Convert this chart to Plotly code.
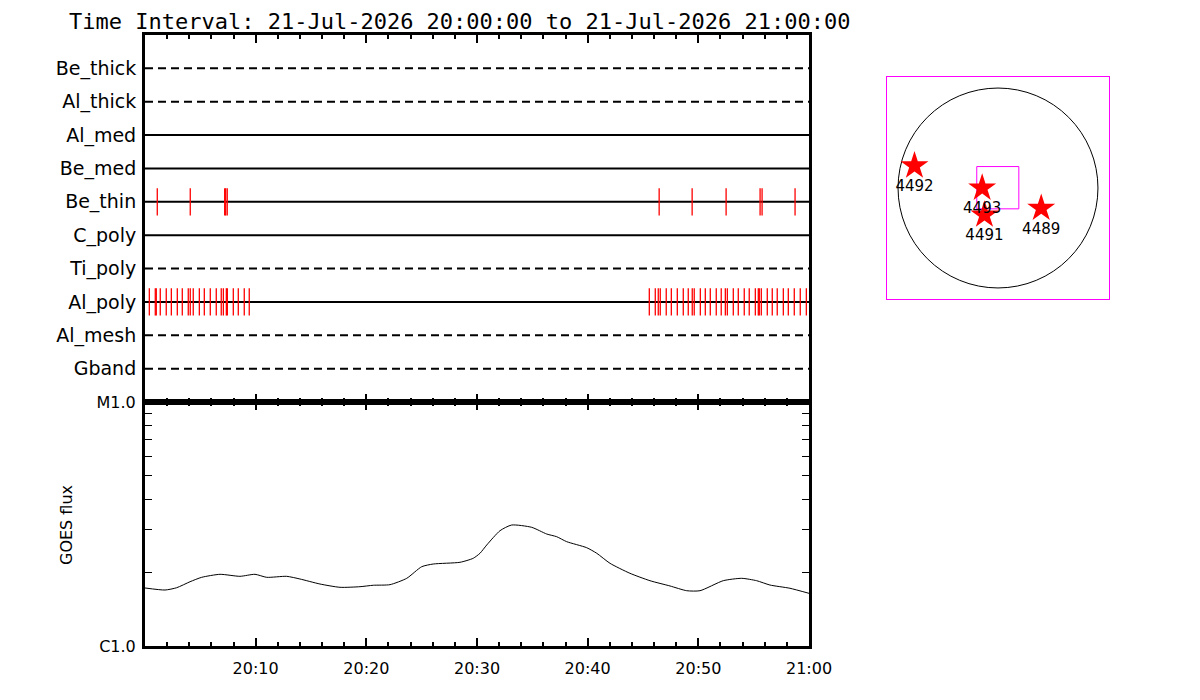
import numpy as np
import pandas as pd
import plotly.graph_objects as go

# ---------------- data ----------------
title_text = "Time Interval: 21-Jul-2026 20:00:00 to 21-Jul-2026 21:00:00"
start_time = "2026-07-21 20:00:00"

channels = ["Gband", "Al_mesh", "Al_poly", "Ti_poly", "C_poly",
            "Be_thin", "Be_med", "Al_med", "Al_thick", "Be_thick"]
channel_dashed = [True, True, False, True, False,
                  False, False, False, True, True]

# event times (minutes after start)
be_thin_events = [1.11, 4.09, 7.20, 7.29, 7.43,
                  46.46, 49.44, 52.51, 55.58, 55.76, 58.74]
al_poly_events = [0.39, 0.93, 1.02, 1.38, 1.92, 2.38, 2.92, 3.37, 3.91, 4.09,
                  4.36, 4.91, 5.36, 5.90, 6.44, 6.89, 7.08, 7.35, 7.44, 7.98,
                  8.43, 8.97, 9.42,
                  45.57, 46.11, 46.38, 46.56, 47.10, 47.56, 48.10, 48.64, 49.09,
                  49.45, 49.63, 50.18, 50.63, 51.08, 51.62, 52.07, 52.44, 52.62,
                  53.16, 53.61, 54.15, 54.60, 55.15, 55.42, 55.51, 55.69, 56.23,
                  56.68, 57.13, 57.68, 58.13, 58.67, 59.21, 59.76]

# GOES flux curve
goes_minutes = [0.0, 1.81, 2.86, 4.07, 5.12, 6.78, 8.58, 9.94, 11.0, 12.80,
                14.0, 15.81, 17.62, 19.43, 20.63, 22.14, 23.65, 25.0, 26.05,
                28.46, 29.66, 30.27, 30.88, 32.08, 33.13, 34.94, 36.30, 37.20,
                38.10, 39.91, 40.82, 42.02, 43.82, 45.63, 47.44, 48.95, 50.15,
                52.25, 53.92, 55.27, 56.47, 58.28, 60.0]
goes_flux = [1.729e-6, 1.696e-6, 1.733e-6, 1.834e-6, 1.912e-6, 1.967e-6,
             1.930e-6, 1.967e-6, 1.912e-6, 1.930e-6, 1.882e-6, 1.795e-6,
             1.740e-6, 1.750e-6, 1.774e-6, 1.784e-6, 1.894e-6, 2.113e-6,
             2.168e-6, 2.203e-6, 2.288e-6, 2.399e-6, 2.594e-6, 2.969e-6,
             3.132e-6, 3.065e-6, 2.877e-6, 2.805e-6, 2.677e-6, 2.529e-6,
             2.399e-6, 2.182e-6, 1.986e-6, 1.852e-6, 1.762e-6, 1.685e-6,
             1.685e-6, 1.852e-6, 1.894e-6, 1.852e-6, 1.778e-6, 1.724e-6,
             1.644e-6]

goes_tickvals = [1e-6, 1e-5]
goes_ticktext = ["C1.0", "M1.0"]
goes_minor = [2e-6, 3e-6, 4e-6, 5e-6, 6e-6, 7e-6, 8e-6, 9e-6]

time_tick_minutes = [10, 20, 30, 40, 50, 60]
time_tick_labels = ["20:10", "20:20", "20:30", "20:40", "20:50", "21:00"]

# active regions on the solar disk (arcsec)
ar_numbers = ["4492", "4493", "4491", "4489"]
ar_x = [-802, -152, -130, 415]
ar_y = [213, 0, -259, -194]
solar_radius = 960
fov_x = [-204, 200]
fov_y = [-200, 206]

# ---------------- build ----------------
base = pd.Timestamp(start_time)
def tm(m):
    return base + pd.to_timedelta(np.asarray(m, dtype=float), unit="min")

t0, t1 = base, base + pd.Timedelta(minutes=60)

W, H, OFF = 1200, 700, 8   # page offset of the plot div
def px(x):
    return (x - OFF) / W
def py(y):
    return 1 - (y - OFF) / H

fig = go.Figure()

# channel baselines
for i, (name, dashed) in enumerate(zip(channels, channel_dashed)):
    fig.add_trace(go.Scatter(
        x=[t0, t1], y=[i + 1, i + 1], mode="lines",
        line=dict(color="black", width=2, dash="8px,5px" if dashed else "solid"),
        xaxis="x", yaxis="y", showlegend=False, hoverinfo="skip"))

def event_segments(events, row, half=0.4):
    xs, ys = [], []
    for t in tm(events):
        xs += [t, t, None]
        ys += [row - half, row + half, None]
    return xs, ys

for events, name in [(be_thin_events, "Be_thin"), (al_poly_events, "Al_poly")]:
    row = channels.index(name) + 1
    xs, ys = event_segments(events, row, 0.41)
    fig.add_trace(go.Scatter(x=xs, y=ys, mode="lines",
                             line=dict(color="red", width=1.3),
                             xaxis="x", yaxis="y", showlegend=False,
                             hoverinfo="skip"))

# GOES curve
fig.add_trace(go.Scatter(x=tm(goes_minutes), y=goes_flux, mode="lines",
                         line=dict(color="black", width=1, shape="spline",
                                   smoothing=0.6),
                         xaxis="x2", yaxis="y2", showlegend=False))

# solar disk inset
fig.add_trace(go.Scatter(x=ar_x, y=ar_y, mode="markers+text",
                         text=ar_numbers, textposition="bottom center",
                         textfont=dict(family="DejaVu Sans", size=15,
                                       color="black"),
                         marker=dict(symbol="star", size=21, color="red",
                                     line=dict(width=0)),
                         xaxis="x3", yaxis="y3", showlegend=False))

XD = [px(145), px(809)]
YTOP = [py(402), py(35)]
YBOT = [py(646), py(402)]

tickfont = dict(family="DejaVu Sans", size=16, color="black")
rowfont = dict(family="DejaVu Sans", size=19, color="black")

xcommon = dict(type="date", range=[t0, t1], showline=True, linewidth=3,
               linecolor="black", mirror="ticks", ticks="inside",
               ticklen=8, tickwidth=2, tickcolor="black",
               tickmode="array", tickvals=list(tm(time_tick_minutes)),
               minor=dict(ticks="inside", ticklen=4, tickwidth=2,
                          tickcolor="black", dtick=120000, tick0=t0,
                          showgrid=False),
               showgrid=False, zeroline=False, domain=XD, automargin=False)

fig.update_layout(
    width=W, height=H, margin=dict(l=0, r=0, t=0, b=0, pad=0),
    autosize=False,
    paper_bgcolor="white", plot_bgcolor="white",
    xaxis=dict(**xcommon, anchor="y", showticklabels=False),
    yaxis=dict(domain=YTOP, range=[0, 11], tickmode="array",
               tickvals=list(range(1, 11)), ticktext=channels,
               ticks="", showline=True, linewidth=3, linecolor="black",
               mirror=True, showgrid=False, zeroline=False,
               tickfont=rowfont, ticklabelstandoff=2, anchor="x",
               automargin=False),
    xaxis2=dict(**xcommon, anchor="y2", ticktext=time_tick_labels,
                tickfont=tickfont, ticklabelstandoff=6),
    yaxis2=dict(domain=YBOT, type="log", range=[-6, -5], anchor="x2",
                tickmode="array", tickvals=goes_tickvals,
                ticktext=goes_ticktext, ticks="inside", ticklen=0,
                showline=True, linewidth=3, linecolor="black",
                mirror="ticks", showgrid=False, zeroline=False,
                tickfont=tickfont, ticklabelstandoff=3, automargin=False,
                minor=dict(tickmode="array", tickvals=goes_minor,
                           ticks="inside", ticklen=7, tickwidth=1,
                           tickcolor="black", showgrid=False)),
    xaxis3=dict(domain=[px(887), px(1109)], range=[-1066, 1066],
                showline=True, linewidth=1, linecolor="#ff00ff", mirror=True,
                showticklabels=False, ticks="", showgrid=False,
                zeroline=False, anchor="y3", automargin=False),
    yaxis3=dict(domain=[py(299), py(77)], range=[-1066, 1066],
                showline=True, linewidth=1, linecolor="#ff00ff", mirror=True,
                showticklabels=False, ticks="", showgrid=False,
                zeroline=False, anchor="x3", automargin=False),
    shapes=[
        dict(type="circle", xref="x3", yref="y3",
             x0=-solar_radius, x1=solar_radius,
             y0=-solar_radius, y1=solar_radius,
             line=dict(color="black", width=1), layer="below"),
        dict(type="rect", xref="x3", yref="y3",
             x0=fov_x[0], x1=fov_x[1], y0=fov_y[0], y1=fov_y[1],
             line=dict(color="#ff00ff", width=1), layer="below"),
    ],
    annotations=[
        dict(text=title_text, x=px(68), y=1.0, xref="paper",
             yref="paper", xanchor="left", yanchor="top", showarrow=False,
             borderpad=0,
             font=dict(family="DejaVu Sans Mono", size=22, color="black")),
        dict(text="GOES flux", x=px(66), y=py(525), xref="paper",
             yref="paper", xanchor="center", yanchor="middle",
             showarrow=False, textangle=-90,
             font=dict(family="DejaVu Sans", size=16, color="black")),
    ],
)

fig.write_html("out.html")
